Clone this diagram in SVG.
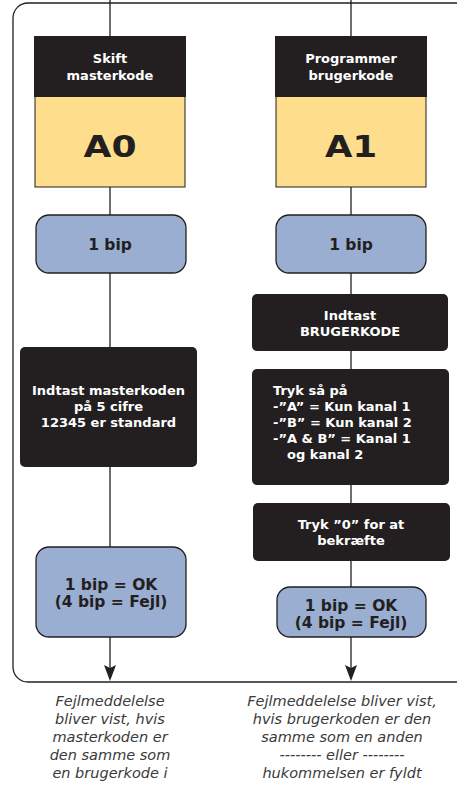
<svg xmlns="http://www.w3.org/2000/svg" width="457" height="787" viewBox="0 0 457 787">
<style>
.k{fill:#231f20}
.y{fill:#fedd8c;stroke:#231f20;stroke-width:1}
.b{fill:#99aed1;stroke:#231f20;stroke-width:1.3}
.w{fill:#fff;font-family:"DejaVu Sans",Verdana,sans-serif;font-weight:bold;font-size:13px;text-anchor:middle}
.wl{fill:#fff;font-family:"DejaVu Sans",Verdana,sans-serif;font-weight:bold;font-size:13px}
.d{fill:#231f20;font-family:"DejaVu Sans",Verdana,sans-serif;font-weight:bold;font-size:15.5px;text-anchor:middle}
.big{fill:#231f20;font-family:"DejaVu Sans",Verdana,sans-serif;font-weight:bold;font-size:31px;text-anchor:middle}
.n{fill:#3a3a3a;font-family:"DejaVu Sans",Verdana,sans-serif;font-style:italic;font-size:14.5px;text-anchor:middle}
.c{stroke:#231f20;stroke-width:1.3;fill:none}
.ah{fill:#231f20}
</style>
<path class="c" d="M457,682 H28 A15,15 0 0 1 13,667 V18 A15,15 0 0 1 28,3 H457"/>
<g id="connectors">
<line class="c" x1="110" y1="0" x2="110" y2="36"/>
<line class="c" x1="110" y1="187" x2="110" y2="215"/>
<line class="c" x1="110" y1="273" x2="110" y2="347"/>
<line class="c" x1="110" y1="467" x2="110" y2="547"/>
<line class="c" x1="110" y1="637" x2="110" y2="670"/>
<path class="ah" d="M104,665 L110,668 L116,665 L110,681 Z"/>
<line class="c" x1="351" y1="0" x2="351" y2="36"/>
<line class="c" x1="351" y1="187" x2="351" y2="215"/>
<line class="c" x1="351" y1="273" x2="351" y2="294"/>
<line class="c" x1="351" y1="351" x2="351" y2="369"/>
<line class="c" x1="351" y1="485" x2="351" y2="503"/>
<line class="c" x1="351" y1="561" x2="351" y2="587"/>
<line class="c" x1="351" y1="637" x2="351" y2="670"/>
<path class="ah" d="M345,665 L351,668 L357,665 L351,681 Z"/>
</g>
<g id="a0">
<rect class="y" x="35" y="96" width="150" height="91"/>
<rect class="k" x="34" y="36" width="152" height="61"/>
<text class="w" x="110" y="63">Skift</text>
<text class="w" x="110" y="80">masterkode</text>
<text class="big" x="110" y="157" textLength="53" lengthAdjust="spacingAndGlyphs">A0</text>
</g>
<g id="a1">
<rect class="y" x="276" y="96" width="150" height="91"/>
<rect class="k" x="275" y="36" width="152" height="61"/>
<text class="w" x="351" y="63">Programmer</text>
<text class="w" x="351" y="80">brugerkode</text>
<text class="big" x="351" y="157" textLength="52" lengthAdjust="spacingAndGlyphs">A1</text>
</g>
<g id="bip-left">
<rect class="b" x="36" y="215" width="150" height="58" rx="13"/>
<text class="d" x="110" y="250">1 bip</text>
</g>
<g id="bip-right">
<rect class="b" x="276" y="215" width="150" height="58" rx="13"/>
<text class="d" x="351" y="250">1 bip</text>
</g>
<g id="indtast-master">
<rect class="k" x="20" y="347" width="177" height="120" rx="5"/>
<text class="w" x="108.5" y="395">Indtast masterkoden</text>
<text class="w" x="108.5" y="411">på 5 cifre</text>
<text class="w" x="108.5" y="427">12345 er standard</text>
</g>
<g id="indtast-bruger">
<rect class="k" x="252" y="294" width="196" height="57" rx="5"/>
<text class="w" x="350" y="320">Indtast</text>
<text class="w" x="350" y="336">BRUGERKODE</text>
</g>
<g id="tryk-paa">
<rect class="k" x="252" y="369" width="197" height="116" rx="5"/>
<text class="wl" x="273" y="395">Tryk så på</text>
<text class="wl" x="273" y="411">-”A” = Kun kanal 1</text>
<text class="wl" x="273" y="427">-”B” = Kun kanal 2</text>
<text class="wl" x="273" y="443">-”A &amp; B” = Kanal 1</text>
<text class="wl" x="287" y="459">og kanal 2</text>
</g>
<g id="tryk-0">
<rect class="k" x="253" y="503" width="197" height="58" rx="5"/>
<text class="w" x="351" y="529">Tryk ”0” for at</text>
<text class="w" x="351" y="545">bekræfte</text>
</g>
<g id="ok-left">
<rect class="b" x="36" y="547" width="150" height="90" rx="13"/>
<text class="d" x="111" y="590">1 bip = OK</text>
<text class="d" x="111" y="607">(4 bip = Fejl)</text>
</g>
<g id="ok-right">
<rect class="b" x="277" y="587" width="149" height="50" rx="13"/>
<text class="d" x="351" y="611">1 bip = OK</text>
<text class="d" x="351" y="628">(4 bip = Fejl)</text>
</g>
<g id="note-left">
<text class="n" x="110" y="706">Fejlmeddelelse</text>
<text class="n" x="110" y="724">bliver vist, hvis</text>
<text class="n" x="110" y="742">masterkoden er</text>
<text class="n" x="110" y="760">den samme som</text>
<text class="n" x="110" y="778">en brugerkode i</text>
</g>
<g id="note-right">
<text class="n" x="342" y="706">Fejlmeddelelse bliver vist,</text>
<text class="n" x="342" y="724">hvis brugerkoden er den</text>
<text class="n" x="342" y="742">samme som en anden</text>
<text class="n" x="342" y="760">-------- eller --------</text>
<text class="n" x="342" y="778">hukommelsen er fyldt</text>
</g>
</svg>
